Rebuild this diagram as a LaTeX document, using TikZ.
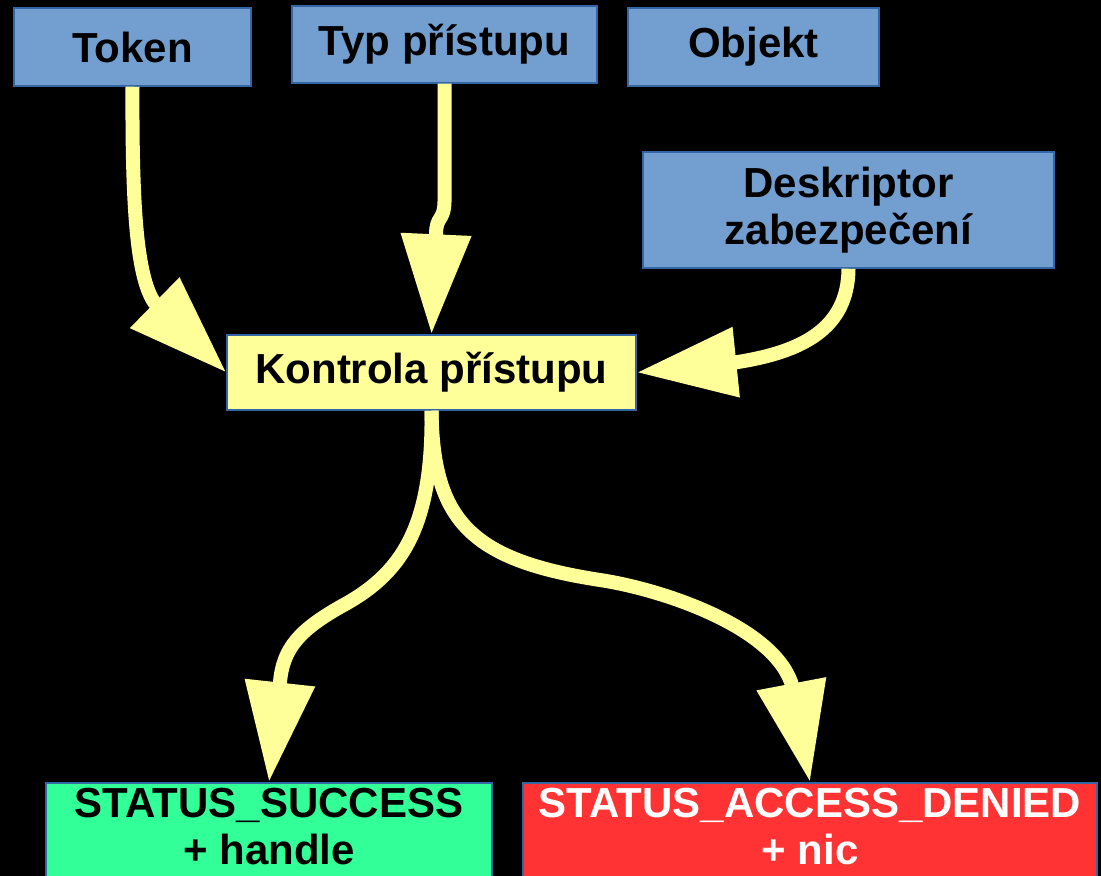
\documentclass[tikz,border=0pt]{standalone}
\usepackage{fontspec}
\setmainfont{Liberation Sans}
\usetikzlibrary{arrows.meta}

\definecolor{boxblue}{HTML}{729FCF}
\definecolor{edgeblue}{HTML}{3465A4}
\definecolor{flowyellow}{HTML}{FFFF99}
\definecolor{okgreen}{HTML}{33FF99}
\definecolor{failred}{HTML}{FF3333}

\begin{document}
\begin{tikzpicture}[x=0.5pt, y=-0.5pt,
	box/.style = {draw=edgeblue, line width=0.75pt, inner sep=0pt, align=center,
		font=\fontsize{21pt}{23.5pt}\selectfont\bfseries},
	inbox/.style = {box, fill=boxblue},
	endbox/.style = {box, anchor=north, inner ysep=2.5pt},
	flow/.style = {draw=flowyellow, line width=7pt,
		-{Triangle[width=33.5pt, length=50pt]}}]
	\useasboundingbox (0,0) rectangle (1101,876);
	\fill[black] (0,0) rectangle (1101,876);
	\clip (0,0) rectangle (1101,876);

	% vstupy
	\node[inbox, minimum width=118.5pt, minimum height=39pt] (tok) at (132.5,47) {Token};
	\node[inbox, minimum width=152.5pt, minimum height=38.5pt] (typ) at (444.5,44.5) {Typ přístupu};
	\node[inbox, minimum width=125.5pt, minimum height=39pt] (obj) at (753.5,47) {Objekt};
	\node[inbox, minimum width=205.5pt, minimum height=58pt] (desc) at (848.5,210) {Deskriptor\\zabezpečení};

	% kontrola a vysledky
	\node[box, fill=flowyellow, minimum width=204.5pt, minimum height=37.5pt] (ctl) at (431.5,372.5) {Kontrola přístupu};
	\node[endbox, fill=okgreen, minimum width=223pt] (ok) at (269,782)
		{STATUS\_SUCCESS\\+ handle\rule[-15pt]{0pt}{0pt}};
	\node[endbox, fill=failred, text=white, minimum width=287pt] (fail) at (810,782)
		{STATUS\_ACCESS\_DENIED\\+ nic\rule[-15pt]{0pt}{0pt}};

	% sipky
	\draw[flow] (tok.south) .. controls (132,200) and (136,275) .. (154,302) -- (ctl.west);
	\draw[flow] (typ.south) -- ++(0,118) .. controls (444,222) and (436,215) .. (436,235) -- (ctl.north);
	\draw[flow] (desc.south) .. controls (848,330) and (800,352) .. (738,362) -- (ctl.east);
	\draw[flow] (ctl.south) .. controls (433,530) and (400,575) .. (340,607)
		.. controls (300,630) and (283,648) .. (280,682) -- (ok.north);
	\draw[flow] (ctl.south) .. controls (433,520) and (470,560) .. (600,580)
		.. controls (660,589) and (770,625) .. (791,682) -- (fail.north);
\end{tikzpicture}
\end{document}
